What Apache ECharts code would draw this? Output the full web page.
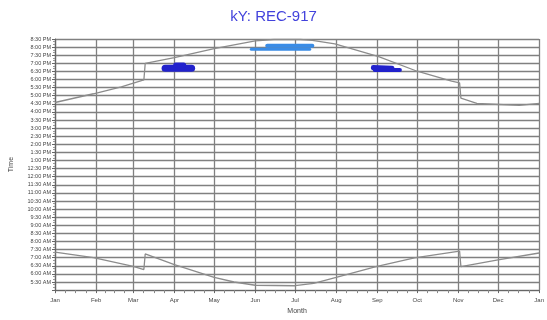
<!DOCTYPE html>
<html><head><meta charset="utf-8">
<script src="https://cdn.jsdelivr.net/npm/echarts@6/dist/echarts.min.js"></script>
<style>html,body{margin:0;padding:0;background:#fff}#c{width:547px;height:320px}</style>
</head><body><div id="c"></div>
<script>
var monthNames = ['Jan','Feb','Mar','Apr','May','Jun','Jul','Aug','Sep','Oct','Nov','Dec'];
// upper curve (evening time, hours)
var eveningCurve = [
  ['2019-01-01',16.58],['2019-01-30',17.12],['2019-02-20',17.55],['2019-03-09',17.97],
  ['2019-03-10',18.99],['2019-04-01',19.35],['2019-05-01',19.90],['2019-06-01',20.38],
  ['2019-06-15',20.47],['2019-07-05',20.47],['2019-07-14',20.41],['2019-07-31',20.20],
  ['2019-09-02',19.41],['2019-10-01',18.51],['2019-10-27',17.90],['2019-11-02',17.79],
  ['2019-11-03',16.85],['2019-11-15',16.52],['2019-12-17',16.40],['2020-01-01',16.52]
];
// lower curve (morning time, hours)
var morningCurve = [
  ['2019-01-01',7.35],['2019-01-30',7.01],['2019-03-01',6.47],['2019-03-09',6.27],
  ['2019-03-10',7.23],['2019-04-01',6.57],['2019-05-01',5.78],['2019-05-16',5.50],
  ['2019-06-01',5.30],['2019-07-01',5.27],['2019-07-15',5.42],['2019-08-01',5.78],
  ['2019-08-31',6.45],['2019-09-29',6.99],['2019-11-02',7.41],['2019-11-03',6.45],
  ['2019-12-01',6.87],['2020-01-01',7.29]
];
// observation blobs
var aprilObsA = [['2019-03-25',18.70],['2019-04-14',18.70]];
var aprilObsB = [['2019-04-02',18.90],['2019-04-08',18.90]];
var summerObsA = [['2019-06-10',20.08],['2019-07-14',20.08]];
var summerObsB = [['2019-05-29',19.87],['2019-07-12',19.87]];
var septObsA = [['2019-08-29',18.74],['2019-09-12',18.70]];
var septObsB = [['2019-08-30',18.58],['2019-09-18',18.58]];

function fmtTime(v){
  var h = Math.floor(v + 1e-6), m = Math.round((v - h) * 60);
  var ap = h >= 12 ? 'PM' : 'AM';
  var hh = h % 12; if (hh === 0) hh = 12;
  return hh + ':' + (m < 10 ? '0' + m : m) + ' ' + ap;
}
var chart = echarts.init(document.getElementById('c'), null, {renderer:'canvas'});
function blob(data, color, width){
  return {type:'line', data:data, symbol:'none', silent:true,
    lineStyle:{color:color, width:width, cap:'round'}, z:3};
}
chart.setOption({
  animation:false,
  backgroundColor:'#fff',
  title:{text:'kY: REC-917', left:'center', top:4,
    textStyle:{color:'#4242dc', fontSize:15, fontWeight:'normal', fontFamily:'Liberation Sans'}},
  grid:{left:49, right:4, top:39, bottom:24},
  xAxis:{type:'time', min:'2019-01-01', max:'2020-01-01',
    minInterval:28*86400000, maxInterval:31*86400000,
    name:'Month', nameLocation:'middle', nameGap:15,
    nameTextStyle:{fontSize:7, color:'#444', fontFamily:'Liberation Sans'},
    axisLine:{lineStyle:{color:'#666', width:1}},
    axisTick:{show:true, length:3, lineStyle:{color:'#666'}},
    minorTick:{show:true, splitNumber:4, length:3, lineStyle:{color:'#888'}},
    axisLabel:{fontSize:6, color:'#444', margin:7, fontFamily:'Liberation Sans',
      showMaxLabel:true, showMinLabel:true,
      formatter:function(v){return monthNames[new Date(v).getMonth()];}},
    splitLine:{show:true, lineStyle:{color:'#808080', width:1.3}}
  },
  yAxis:{type:'value', min:5, max:20.5, interval:0.5,
    name:'Time', nameLocation:'middle', nameGap:40, nameRotate:90,
    nameTextStyle:{fontSize:7, color:'#444', fontFamily:'Liberation Sans'},
    axisLine:{show:true, lineStyle:{color:'#666', width:1}},
    axisTick:{show:true, length:3, lineStyle:{color:'#666'}},
    minorTick:{show:true, splitNumber:3, length:2, lineStyle:{color:'#999'}},
    axisLabel:{fontSize:5.5, color:'#444', margin:4, fontFamily:'Liberation Sans',
      formatter:function(v){ return v === 5 ? '' : fmtTime(v); }},
    splitLine:{show:true, lineStyle:{color:'#808080', width:1.3}}
  },
  series:[
    {type:'line', data:eveningCurve, symbol:'none', silent:true, lineStyle:{color:'#8c8c8c', width:1.3}, z:2},
    {type:'line', data:morningCurve, symbol:'none', silent:true, lineStyle:{color:'#8c8c8c', width:1.3}, z:2},
    blob(aprilObsA, '#2222cc', 7),
    blob(aprilObsB, '#2222cc', 5),
    blob(summerObsA, '#3a8ce6', 4),
    blob(summerObsB, '#3a8ce6', 3),
    blob(septObsA, '#2222cc', 5),
    blob(septObsB, '#2222cc', 4)
  ]
});
</script></body></html>
